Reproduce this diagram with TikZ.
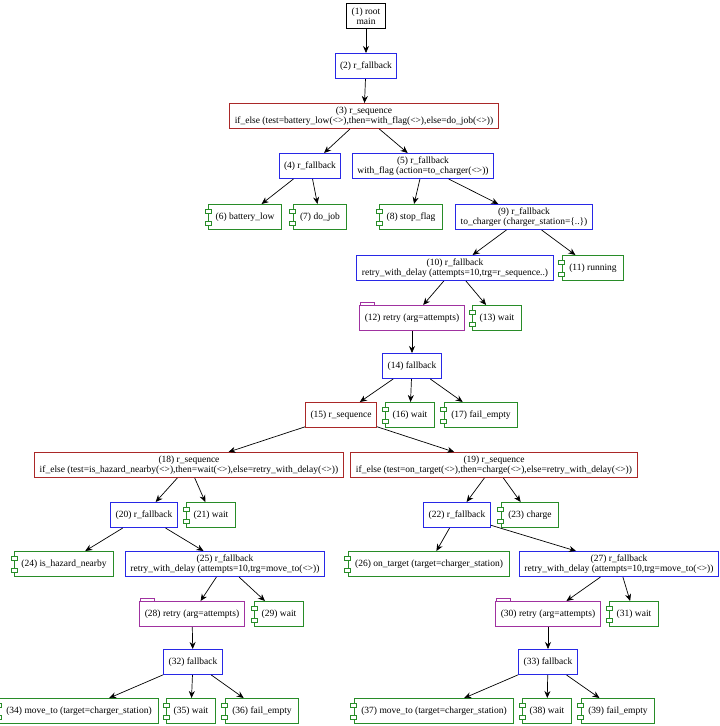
\documentclass[tikz,border=0pt]{standalone}
\usepackage{fontspec}
\setmainfont{Liberation Serif}
\usetikzlibrary{calc,arrows.meta}
\definecolor{cb}{RGB}{40,40,230}
\definecolor{cr}{RGB}{170,40,40}
\definecolor{cg}{RGB}{40,140,40}
\definecolor{cp}{RGB}{160,50,160}
\begin{document}
\begin{tikzpicture}[x=1pt,y=-1pt,
 base/.style={rectangle,inner xsep=5pt,inner ysep=1.5pt,minimum height=25pt,align=center,font=\fontsize{9.5}{10.5}\selectfont,text=black,line width=1pt},
 root/.style={base,draw=black},
 fb/.style={base,draw=cb},
 sq/.style={base,draw=cr},
 comp/.style={base,draw=cg,inner xsep=7pt},
 rt/.style={base,draw=cp},
 e/.style={-{Stealth[length=7pt,width=6pt]},line width=0.7pt}]
\useasboundingbox (0,0) rectangle (720,726);
\node[root] (n1) at (366,16) {(1) root\\main};
\node[fb] (n2) at (366,66) {(2) r\_fallback};
\node[sq] (n3) at (364,116) {(3) r\_sequence\\if\_else (test=battery\_low(<>),then=with\_flag(<>),else=do\_job(<>))};
\node[fb] (n4) at (310,166) {(4) r\_fallback};
\node[fb] (n5) at (423,166) {(5) r\_fallback\\with\_flag (action=to\_charger(<>))};
\node[comp] (n6) at (245,217) {(6) battery\_low};
\node[comp] (n7) at (320,217) {(7) do\_job};
\node[comp] (n8) at (411,217) {(8) stop\_flag};
\node[fb] (n9) at (524,217) {(9) r\_fallback\\to\_charger (charger\_station=\{..\})};
\node[fb] (n10) at (455,268) {(10) r\_fallback\\retry\_with\_delay (attempts=10,trg=r\_sequence..)};
\node[comp] (n11) at (593,268) {(11) running};
\node[rt] (n12) at (412,318) {(12) retry (arg=attempts)};
\node[comp] (n13) at (497,318) {(13) wait};
\node[fb] (n14) at (412,366) {(14) fallback};
\node[sq] (n15) at (341,415) {(15) r\_sequence};
\node[comp] (n16) at (410,415) {(16) wait};
\node[comp] (n17) at (481,415) {(17) fail\_empty};
\node[sq] (n18) at (189,465) {(18) r\_sequence\\if\_else (test=is\_hazard\_nearby(<>),then=wait(<>),else=retry\_with\_delay(<>))};
\node[sq] (n19) at (494,465) {(19) r\_sequence\\if\_else (test=on\_target(<>),then=charge(<>),else=retry\_with\_delay(<>))};
\node[fb] (n20) at (144,515) {(20) r\_fallback};
\node[comp] (n21) at (211,515) {(21) wait};
\node[fb] (n22) at (457,515) {(22) r\_fallback};
\node[comp] (n23) at (530,515) {(23) charge};
\node[comp] (n24) at (64,564) {(24) is\_hazard\_nearby};
\node[fb] (n25) at (225,564) {(25) r\_fallback\\retry\_with\_delay (attempts=10,trg=move\_to(<>))};
\node[comp] (n26) at (429,564) {(26) on\_target (target=charger\_station)};
\node[fb] (n27) at (619,564) {(27) r\_fallback\\retry\_with\_delay (attempts=10,trg=move\_to(<>))};
\node[rt] (n28) at (192,614) {(28) retry (arg=attempts)};
\node[comp] (n29) at (279,614) {(29) wait};
\node[rt] (n30) at (548,614) {(30) retry (arg=attempts)};
\node[comp] (n31) at (634,614) {(31) wait};
\node[fb] (n32) at (193,662) {(32) fallback};
\node[fb] (n33) at (548,662) {(33) fallback};
\node[comp] (n34) at (79,711) {(34) move\_to (target=charger\_station)};
\node[comp] (n35) at (191,711) {(35) wait};
\node[comp] (n36) at (262,711) {(36) fail\_empty};
\node[comp] (n37) at (434,711) {(37) move\_to (target=charger\_station)};
\node[comp] (n38) at (547,711) {(38) wait};
\node[comp] (n39) at (618,711) {(39) fail\_empty};
\foreach \n in {6,7,8,11,13,16,17,21,23,24,26,29,31,34,35,36,37,38,39}{
 \draw[cg,line width=0.7pt,fill=white] ($(n\n.north west)+(-3,5)$) rectangle ++(6,4);
 \draw[cg,line width=0.7pt,fill=white] ($(n\n.south west)+(-3,-9)$) rectangle ++(6,4);
}
\foreach \n in {12,28,30}{
 \draw[cp,line width=0.7pt] ($(n\n.north west)+(1,0)$) -- ++(0,-3) -- ++(14,0) -- ++(0,3);
}
\foreach \a/\b in {1/2,2/3,3/4,3/5,4/6,4/7,5/8,5/9,9/10,9/11,10/12,10/13,12/14,14/15,14/16,14/17,15/18,15/19,18/20,18/21,19/22,19/23,20/24,20/25,22/26,22/27,25/28,25/29,27/30,27/31,28/32,30/33,32/34,32/35,32/36,33/37,33/38,33/39}
 \draw[e] (n\a) -- (n\b);
\end{tikzpicture}
\end{document}
